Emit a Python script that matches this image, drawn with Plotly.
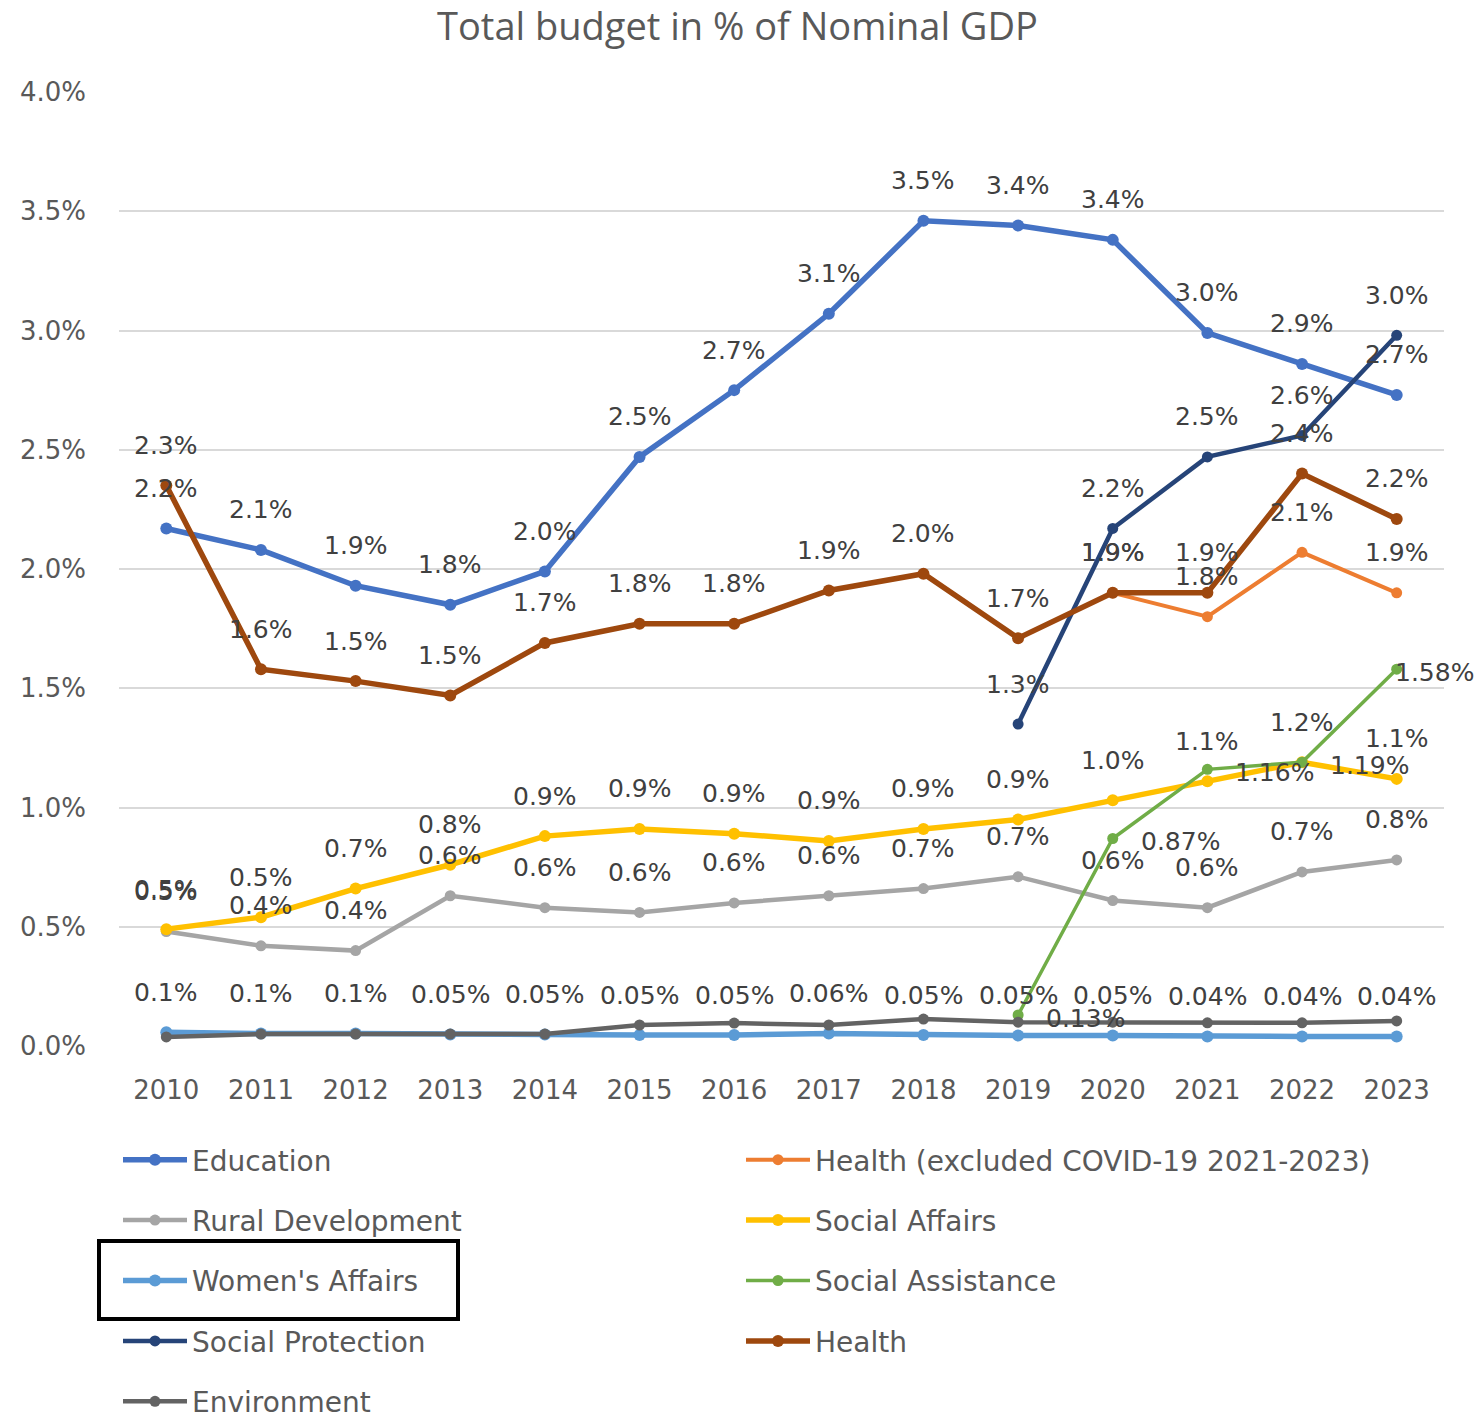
import plotly.graph_objects as go

# ---------------- data ----------------
years = list(range(2010, 2024))

education = [2.17, 2.08, 1.93, 1.85, 1.99, 2.47, 2.75, 3.07, 3.46, 3.44, 3.38, 2.99, 2.86, 2.73]
education_lbl = ["2.2%", "2.1%", "1.9%", "1.8%", "2.0%", "2.5%", "2.7%", "3.1%", "3.5%", "3.4%", "3.4%", "3.0%", "2.9%", "2.7%"]

health_excl = [None] * 10 + [1.90, 1.80, 2.07, 1.90]
health_excl_lbl = [None] * 10 + ["1.9%", "1.8%", "2.1%", "1.9%"]

rural = [0.48, 0.42, 0.40, 0.63, 0.58, 0.56, 0.60, 0.63, 0.66, 0.71, 0.61, 0.58, 0.73, 0.78]
rural_lbl = ["0.5%", "0.4%", "0.4%", "0.6%", "0.6%", "0.6%", "0.6%", "0.6%", "0.7%", "0.7%", "0.6%", "0.6%", "0.7%", "0.8%"]

social_affairs = [0.49, 0.54, 0.66, 0.76, 0.88, 0.91, 0.89, 0.86, 0.91, 0.95, 1.03, 1.11, 1.19, 1.12]
social_affairs_lbl = ["0.5%", "0.5%", "0.7%", "0.8%", "0.9%", "0.9%", "0.9%", "0.9%", "0.9%", "0.9%", "1.0%", "1.1%", "1.2%", "1.1%"]

womens = [0.058, 0.052, 0.052, 0.048, 0.048, 0.046, 0.046, 0.052, 0.046, 0.044, 0.044, 0.04, 0.04, 0.04]
womens_lbl = ["0.1%", "0.1%", "0.1%", "0.05%", "0.05%", "0.05%", "0.05%", "0.06%", "0.05%", "0.05%", "0.05%", "0.04%", "0.04%", "0.04%"]

social_assist = [None] * 9 + [0.13, 0.87, 1.16, 1.19, 1.58]
social_assist_lbl = [None] * 9 + ["0.13%", "0.87%", "1.16%", "1.19%", "1.58%"]

social_prot = [None] * 9 + [1.35, 2.17, 2.47, 2.56, 2.98]
social_prot_lbl = [None] * 9 + ["1.3%", "2.2%", "2.5%", "2.6%", "3.0%"]

health = [2.35, 1.58, 1.53, 1.47, 1.69, 1.77, 1.77, 1.91, 1.98, 1.71, 1.90, 1.90, 2.40, 2.21]
health_lbl = ["2.3%", "1.6%", "1.5%", "1.5%", "1.7%", "1.8%", "1.8%", "1.9%", "2.0%", "1.7%", "1.9%", "1.9%", "2.4%", "2.2%"]

environment = [0.038, 0.05, 0.05, 0.05, 0.05, 0.088, 0.096, 0.088, 0.113, 0.10, 0.10, 0.097, 0.097, 0.105]

y_ticks = [0, 0.5, 1.0, 1.5, 2.0, 2.5, 3.0, 3.5, 4.0]

# ---------------- styling ----------------
W, H = 1475, 1418
L, R, T, B = 119, 31, 92, 372
PW, PH = W - L - R, H - T - B

LABEL_FONT = dict(family="DejaVu Sans", size=25, color="#404040")
TICK_FONT = dict(family="DejaVu Sans", size=26, color="#595959")
LEG_FONT = dict(family="DejaVu Sans", size=28, color="#595959")

series = [
    # name, values, labels, color, width, marker size, legend, label mode
    ("Education", education, education_lbl, "#4472C4", 5.5, 12, "legend", "above"),
    ("Health (excluded COVID-19 2021-2023)", health_excl, health_excl_lbl, "#ED7D31", 4, 11, "legend2", "above"),
    ("Rural Development", rural, rural_lbl, "#A5A5A5", 4.5, 11, "legend", "above"),
    ("Social Affairs", social_affairs, social_affairs_lbl, "#FFC000", 5.5, 12, "legend2", "above"),
    ("Women's Affairs", womens, womens_lbl, "#5B9BD5", 5.5, 12, "legend", "above"),
    ("Social Assistance", social_assist, social_assist_lbl, "#70AD47", 3.5, 11, "legend2", "right"),
    ("Social Protection", social_prot, social_prot_lbl, "#264478", 4.5, 11, "legend", "above"),
    ("Health", health, health_lbl, "#9E480E", 5.5, 12, "legend2", "above"),
    ("Environment", environment, None, "#636363", 4.5, 11, "legend", None),
]


def px_to_paper_x(px):
    return (px - L) / PW


def px_to_paper_y(py):
    return (H - B - py) / PH


fig = go.Figure()
annotations = []
for i, (name, vals, lbls, color, lw, ms, leg, mode) in enumerate(series):
    fig.add_trace(go.Scatter(
        x=years, y=vals, name=name, mode="lines+markers",
        line=dict(color=color, width=lw),
        marker=dict(color=color, size=ms),
        connectgaps=False,
        legend=leg, legendgroup=f"g{i}",
        hoverinfo="x+y+name",
    ))
    if lbls is None:
        continue
    n_valid = sum(1 for v in vals if v is not None)
    k = 0
    for yr, v, t in zip(years, vals, lbls):
        if v is None or t is None:
            continue
        k += 1
        if mode == "above":
            annotations.append(dict(x=yr, y=v, xref="x", yref="y", text=t, showarrow=False,
                                    yshift=40, font=LABEL_FONT))
        else:
            annotations.append(dict(x=yr, y=v, xref="x", yref="y", text=t, showarrow=False,
                                    xanchor="left", xshift=(-4 if k == n_valid else 26), yshift=-3,
                                    font=LABEL_FONT))

fig.update_layout(
    width=W, height=H,
    margin=dict(l=L, r=R, t=T, b=B, pad=0, autoexpand=False),
    paper_bgcolor="white", plot_bgcolor="white",
    title=dict(text="Total budget in % of Nominal GDP", x=0.5, xref="container",
               y=1 - 27 / H, yref="container", yanchor="middle", xanchor="center",
               font=dict(family="Open Sans", size=38, color="#595959")),
    xaxis=dict(range=[2009.5, 2023.5], tickmode="array", tickvals=years,
               ticktext=[str(y) for y in years], showgrid=False, zeroline=False,
               showline=False, ticks="", tickfont=TICK_FONT, ticklabelstandoff=26,
               fixedrange=True, automargin=False),
    yaxis=dict(range=[0, 4.0], tickmode="array", tickvals=y_ticks,
               ticktext=[f"{v:.1f}%" for v in y_ticks], showgrid=True,
               gridcolor="#D9D9D9", gridwidth=1.5, zeroline=False, showline=False,
               ticks="", tickfont=TICK_FONT, ticklabelstandoff=32, fixedrange=True,
               automargin=False),
    legend=dict(orientation="v", x=px_to_paper_x(118), y=px_to_paper_y(1135),
                xanchor="left", yanchor="top", font=LEG_FONT, itemwidth=64,
                tracegroupgap=21, bgcolor="rgba(0,0,0,0)", traceorder="grouped"),
    legend2=dict(orientation="v", x=px_to_paper_x(741), y=px_to_paper_y(1135),
                 xanchor="left", yanchor="top", font=LEG_FONT, itemwidth=64,
                 tracegroupgap=21, bgcolor="rgba(0,0,0,0)", traceorder="grouped"),
    annotations=annotations,
    shapes=[dict(type="rect", xref="paper", yref="paper",
                 x0=px_to_paper_x(99), x1=px_to_paper_x(458),
                 y0=px_to_paper_y(1241), y1=px_to_paper_y(1319),
                 line=dict(color="black", width=4), fillcolor="rgba(0,0,0,0)")],
    showlegend=True,
)

fig.write_html("out.html", config={"displayModeBar": False},
               post_script="document.body.style.margin='0';")
